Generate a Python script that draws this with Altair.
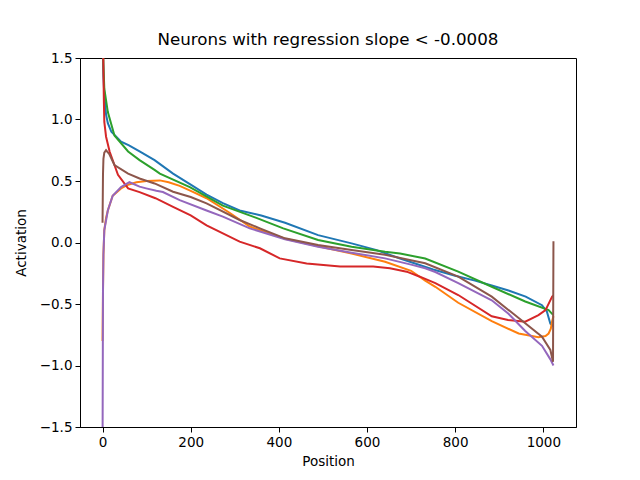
import altair as alt
import pandas as pd

# --- data ---
blue_pos = [0, 1, 2, 4, 8, 12, 20, 42, 60, 84, 118, 160, 200, 236, 273, 311, 360, 414, 489, 565, 620, 675, 750, 800, 845, 883, 921, 960, 997, 1008, 1016, 1023]
blue_val = [1.8, 1.5, 1.35, 1.2, 1.04, 0.97, 0.9, 0.82, 0.79, 0.74, 0.67, 0.56, 0.47, 0.39, 0.32, 0.26, 0.22, 0.16, 0.06, -0.007, -0.06, -0.13, -0.22, -0.27, -0.31, -0.35, -0.39, -0.44, -0.51, -0.56, -0.66, -0.68]

orange_pos = [0, 1, 2, 4, 8, 12, 23, 42, 58, 77, 100, 130, 150, 175, 200, 236, 289, 334, 414, 489, 565, 641, 700, 732, 755, 807, 883, 944, 989, 1005, 1012, 1017, 1020, 1023]
orange_val = [-0.8, -0.4, -0.1, 0.1, 0.2, 0.26, 0.38, 0.44, 0.47, 0.49, 0.5, 0.505, 0.49, 0.46, 0.42, 0.36, 0.24, 0.13, 0.03, -0.03, -0.09, -0.156, -0.23, -0.31, -0.36, -0.49, -0.64, -0.74, -0.77, -0.76, -0.74, -0.7, -0.64, -0.6]

green_pos = [0, 1, 2, 4, 12, 27, 58, 84, 118, 130, 198, 273, 349, 410, 489, 565, 641, 675, 732, 807, 883, 959, 1012, 1020, 1023]
green_val = [1.9, 1.6, 1.45, 1.25, 1.06, 0.87, 0.74, 0.67, 0.59, 0.56, 0.45, 0.3, 0.2, 0.115, 0.02, -0.034, -0.075, -0.09, -0.13, -0.237, -0.36, -0.48, -0.55, -0.58, -0.59]

red_pos = [0, 1, 2, 3, 4, 8, 16, 35, 58, 84, 120, 160, 200, 236, 258, 311, 357, 402, 463, 539, 614, 652, 690, 720, 755, 807, 883, 920, 959, 989, 1005, 1020, 1023]
red_val = [2.5, 1.8, 1.4, 1.15, 0.98, 0.86, 0.74, 0.55, 0.44, 0.41, 0.36, 0.29, 0.22, 0.14, 0.1, 0.007, -0.047, -0.129, -0.17, -0.196, -0.196, -0.21, -0.237, -0.278, -0.33, -0.427, -0.6, -0.63, -0.644, -0.59, -0.55, -0.44, -0.43]

purple_pos = [0, 1, 2, 4, 12, 23, 42, 61, 84, 99, 122, 137, 175, 236, 273, 334, 414, 489, 565, 641, 700, 732, 755, 807, 883, 921, 959, 997, 1016, 1023]
purple_val = [-1.7, -0.4, -0.1, 0.1, 0.26, 0.38, 0.45, 0.49, 0.454, 0.44, 0.42, 0.41, 0.345, 0.26, 0.21, 0.115, 0.026, -0.034, -0.083, -0.129, -0.18, -0.21, -0.24, -0.33, -0.47, -0.58, -0.72, -0.84, -0.95, -1.0]

brown_pos = [0, 1, 2, 4, 8, 15, 27, 58, 84, 118, 160, 200, 236, 311, 357, 414, 489, 565, 641, 732, 807, 883, 959, 997, 1016, 1022, 1023]
brown_val = [0.16, 0.55, 0.68, 0.73, 0.75, 0.72, 0.63, 0.56, 0.52, 0.48, 0.413, 0.37, 0.318, 0.183, 0.115, 0.034, -0.02, -0.061, -0.1, -0.169, -0.278, -0.44, -0.657, -0.766, -0.874, -0.97, 0.01]

series_names = ["n0", "n1", "n2", "n3", "n4", "n5"]
series_colors = ["#1f77b4", "#ff7f0e", "#2ca02c", "#d62728", "#9467bd", "#8c564b"]
x_ticks = [0, 200, 400, 600, 800, 1000]
y_ticks = [-1.5, -1.0, -0.5, 0.0, 0.5, 1.0, 1.5]

all_pos = [blue_pos, orange_pos, green_pos, red_pos, purple_pos, brown_pos]
all_val = [blue_val, orange_val, green_val, red_val, purple_val, brown_val]

rows = []
for name, ps, vs in zip(series_names, all_pos, all_val):
    for i, (p, v) in enumerate(zip(ps, vs)):
        rows.append({"series": name, "pos": p, "val": v, "order": i})
df = pd.DataFrame(rows)

FONT = "DejaVu Sans"

chart = (
    alt.Chart(df)
    .mark_line(strokeWidth=2, clip=True)
    .encode(
        x=alt.X(
            "pos:Q",
            scale=alt.Scale(domain=[-51.15, 1074.15], nice=False, zero=False),
            axis=alt.Axis(
                title="Position",
                values=x_ticks,
                format="d",
                grid=False,
                tickSize=5,
                labelPadding=3,
                titlePadding=6,
            ),
        ),
        y=alt.Y(
            "val:Q",
            scale=alt.Scale(domain=[-1.5, 1.5], nice=False, zero=False),
            axis=alt.Axis(
                title="Activation",
                values=y_ticks,
                format=".1f",
                labelExpr="replace(format(datum.value, '.1f'), '-', '\u2212')",
                grid=False,
                tickSize=5,
                labelPadding=3,
                titlePadding=11,
            ),
        ),
        color=alt.Color(
            "series:N",
            scale=alt.Scale(domain=series_names, range=series_colors),
            legend=None,
        ),
        detail="series:N",
        order="order:Q",
    )
    .properties(
        width=496,
        height=369,
        title=alt.TitleParams(
            "Neurons with regression slope < -0.0008",
            font=FONT,
            fontSize=16.7,
            fontWeight="normal",
            color="black",
            anchor="middle",
            offset=2,
        ),
        autosize=alt.AutoSizeParams(type="none"),
        padding={"left": 72, "top": 50, "right": 56, "bottom": 45},
    )
    .configure_view(stroke="black", strokeWidth=1)
    .configure_axis(
        labelFont=FONT,
        titleFont=FONT,
        labelFontSize=13.5,
        titleFontSize=13.5,
        titleFontWeight="normal",
        labelColor="black",
        titleColor="black",
        domainColor="black",
        tickColor="black",
        domainWidth=1,
        tickWidth=1,
    )
)

chart.save("out.html", embed_options={"renderer": "svg", "actions": False})
